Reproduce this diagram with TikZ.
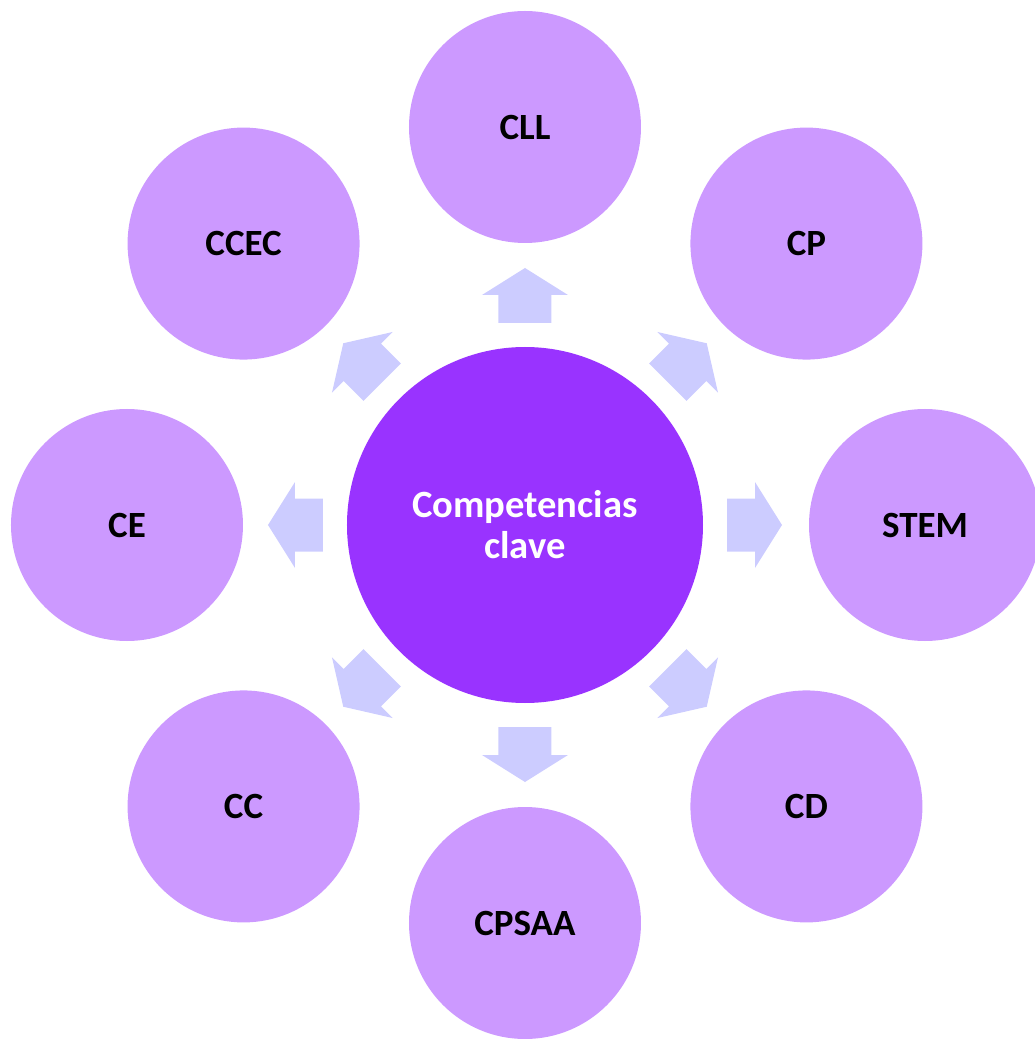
\documentclass[tikz,border=0pt]{standalone}
\usepackage{fontspec}
\setmainfont{Carlito}
\usepackage{xcolor}
\definecolor{outerpurple}{HTML}{CC99FF}
\definecolor{innerpurple}{HTML}{9933FF}
\definecolor{arrowblue}{HTML}{CCCCFF}
\usetikzlibrary{positioning}

\begin{document}
\begin{tikzpicture}[x=0.5pt, y=0.5pt,
  every node/.style = {circle, inner sep=0pt, font=\fontsize{18.5}{20}\selectfont\bfseries, align=center},
  comp/.style = {fill=outerpurple, minimum size=116pt, text=black},
  core/.style = {fill=innerpurple, minimum size=178pt, text=white, font=\fontsize{19.3}{20.5}\selectfont\bfseries},
  blockarrow/.style = {fill=arrowblue}
]
\useasboundingbox (-525,-514) rectangle (509,525);

% arrows first, circles on top
\foreach \a in {0,45,...,315}
  \fill[blockarrow, rotate=\a] (202,-26.5) -- (230,-26.5) -- (230,-43) -- (257,0)
    -- (230,43) -- (230,26.5) -- (202,26.5) -- cycle;

\node[core] (0) at (0,0) {Competencias\\clave};
\node[comp] (1) at (90:398) {CLL};
\node[comp] (2) at (45:398) {CP};
\node[comp] (3) at (0:400) {STEM};
\node[comp] (4) at (-45:398) {CD};
\node[comp] (5) at (-90:398) {CPSAA};
\node[comp] (6) at (-135:398) {CC};
\node[comp] (7) at (180:398) {CE};
\node[comp] (8) at (135:398) {CCEC};
\end{tikzpicture}
\end{document}
